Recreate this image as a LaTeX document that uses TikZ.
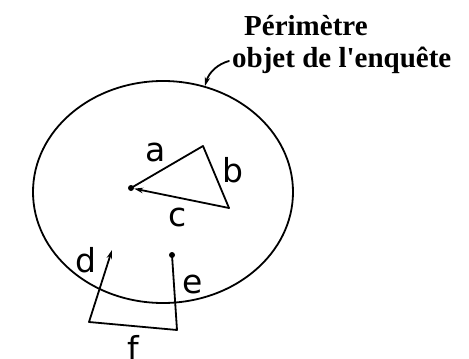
\documentclass[tikz,border=0pt]{standalone}
\usepackage{fontspec}
\setmainfont{Liberation Serif}
\newfontfamily\lblfont{DejaVu Sans}
\usetikzlibrary{arrows.meta,shapes.geometric}
\begin{document}
\begin{tikzpicture}[x=1pt,y=-1pt,
  ln/.style={line width=1.8pt,line cap=round,line join=round},
  arr/.style={ln,-{Stealth[length=9pt,width=5.5pt]}},
  lbl/.style={font=\lblfont\fontsize{33}{35}\selectfont,inner sep=0pt},
  ttl/.style={font=\bfseries\fontsize{29}{31}\selectfont,inner sep=0pt,anchor=base west},
  dotc/.style={circle,fill=black,inner sep=0pt,minimum size=6pt}]
\useasboundingbox (0,0) rectangle (469,359);
% perimeter
\node[draw,ellipse,line width=1.8pt,minimum width=260pt,minimum height=222pt,inner sep=0pt] (per) at (163,192) {};
% title
\node[ttl] (t1) at (244,35) {Périmètre};
\node[ttl] (t2) at (232,67) {objet de l\textquotesingle enquête};
\coordinate (ps) at (229,61);
\coordinate (pt) at (205,86);
\draw[arr] (ps) .. controls (218,64) and (209,72) .. (pt);
% triangle
\node[dotc] (s) at (131,188) {};
\coordinate (v1) at (203,146);
\coordinate (v2) at (229,208);
\draw[ln] (s.center) -- (v1) -- (v2);
\draw[arr] (v2) -- (s);
\node[lbl] (la) at (156,152) {a};
\node[lbl] (lb) at (233,170) {b};
\node[lbl] (lc) at (178,217) {c};
% d, e, f path
\coordinate (dt) at (112,250);
\coordinate (db) at (89,322);
\coordinate (eb) at (177,330);
\node[dotc] (et) at (172,255) {};
\draw[arr] (et.center) -- (eb) -- (db) -- (dt);
\node[lbl] (ld) at (86,260) {d};
\node[lbl] (le) at (193,284) {e};
\node[lbl,anchor=north] (lf) at (133,335) {f};
\end{tikzpicture}
\end{document}
